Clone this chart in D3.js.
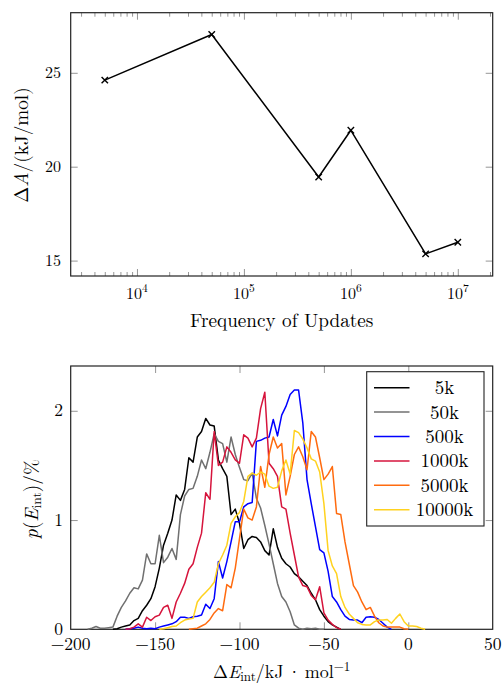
<!DOCTYPE html>
<html><head><meta charset="utf-8">
<script src="https://cdn.jsdelivr.net/npm/d3@7"></script>
<style>
body{margin:0;background:#fff;}
svg{display:block;}
</style></head><body>
<svg id="c" width="504" height="684"></svg>
<script>
// ---------- top chart data ----------
const freq = [5e3, 5e4, 5e5, 1e6, 5e6, 1e7];
const dA = [24.61, 27.04, 19.45, 21.94, 15.36, 15.98];
const topYTicks = [15, 20, 25];
const topXTicks = [1e4, 1e5, 1e6, 1e7];
const topXTickExp = ["4", "5", "6", "7"];
const topXMinor = [3e3,4e3,5e3,6e3,7e3,8e3,9e3, 2e4,3e4,4e4,5e4,6e4,7e4,8e4,9e4,
  2e5,3e5,4e5,5e5,6e5,7e5,8e5,9e5, 2e6,3e6,4e6,5e6,6e6,7e6,8e6,9e6, 2e7];

// ---------- bottom chart data ----------
const N = null;
const bins = [
 -190,-187.5,-185,-182.5, -180,-177.5,-175,-172.5, -170,-167.5,-165,-162.5,
 -160,-157.5,-155,-152.5, -150,-147.5,-145,-142.5, -140,-137.5,-135,-132.5,
 -130,-127.5,-125,-122.5, -120,-117.5,-115,-112.5, -110,-107.5,-105,-102.5,
 -100,-97.5,-95,-92.5, -90,-87.5,-85,-82.5, -80,-77.5,-75,-72.5,
 -70,-67.5,-65,-62.5, -60,-57.5,-55,-52.5, -50,-47.5,-45,-42.5,
 -40,-37.5,-35,-32.5, -30,-27.5,-25,-22.5, -20,-17.5,-15,-12.5,
 -10,-7.5,-5,-2.5, 0,2.5,5,7.5, 10];
const p5k = [
 N,N,N,N, N,N,0,0.005, 0.02,0.03,0.04,0.08,
 0.1,0.17,0.22,0.28, 0.39,0.56,0.77,0.88, 1.0,1.23,1.18,1.28,
 1.57,1.53,1.76,1.81, 1.93,1.87,1.86,1.55, 1.47,1.4,1.05,1.1,
 0.97,0.74,0.82,0.85, 0.84,0.8,0.72,0.68, 0.92,0.75,0.65,0.6,
 0.57,0.51,0.48,0.44, 0.4,0.33,0.27,0.18, 0.12,0.07,0.04,0.02,
 0,N,N,N, N,N,N,N, N,N,N,N,
 N,N,N,N, N,N,N,N, N];
const p50k = [
 0,0.01,0.025,0.01, 0.01,0.015,0.02,0.12, 0.2,0.26,0.33,0.38,
 0.37,0.45,0.69,0.6, 0.6,0.86,0.61,0.66, 0.74,0.64,1.05,1.22,
 1.28,1.29,1.4,1.55, 1.47,1.62,1.79,1.72, 1.7,1.53,1.76,1.6,
 1.48,1.37,1.36,1.43, 1.2,1.11,0.95,0.78, 0.6,0.42,0.3,0.25,
 0.16,0.04,0.01,0, 0.01,0.005,0.01,0, 0,N,N,N,
 N,N,N,N, N,N,N,N, N,N,N,N,
 N,N,N,N, N,N,N,N, N];
const p500k = [
 N,N,N,N, N,N,N,N, N,0,0.005,0.01,
 0.02,0.01,0.005,0.01, 0.005,0.02,0.03,0.04, 0.05,0.07,0.11,0.11,
 0.1,0.115,0.12,0.13, 0.23,0.19,0.28,0.62, 0.47,0.62,0.8,0.985,
 0.985,1.12,1.15,1.16, 1.72,1.73,1.75,1.76, 1.92,1.77,1.96,2.04,
 2.15,2.19,2.19,1.89, 1.37,1.15,0.94,0.73, 0.7,0.53,0.3,0.25,
 0.18,0.12,0.09,0.085, 0.085,0.06,0.11,0.115, 0.11,0.09,0.055,0.02,
 0,N,N,N, N,N,N,N, N];
const p1000k = [
 N,N,N,N, N,N,N,N, N,0,0.005,0.02,
 0.05,0.02,0.11,0.08, 0.115,0.13,0.2,0.22, 0.1,0.25,0.33,0.42,
 0.55,0.6,0.75,0.88, 1.25,1.19,1.81,1.5, 1.53,1.67,1.62,1.55,
 1.52,1.78,1.75,1.67, 1.75,2.02,2.17,1.52, 1.47,1.4,1.12,1.1,
 0.88,0.68,0.48,0.4, 0.39,0.31,0.27,0.39, 0.15,0.085,0.045,0.015,
 0,N,N,N, N,N,N,N, N,N,N,N,
 N,N,N,N, N,N,N,N, N];
const p5000k = [
 N,N,N,N, N,N,N,N, N,N,N,N,
 N,N,N,N, N,N,N,N, N,N,N,N,
 0,0.005,0.01,0.03, 0.05,0.09,0.15,0.19, 0.17,0.41,0.38,0.56,
 0.83,1.1,1.02,1.0, 1.12,1.49,1.3,1.6, 1.76,1.66,1.7,1.23,
 1.4,1.6,1.67,1.58, 1.46,1.81,1.76,1.57, 1.37,1.42,1.49,1.06,
 1.05,0.8,0.6,0.4, 0.34,0.25,0.18,0.2, 0.12,0.06,0.03,0.02,
 0.02,0.02,0.02,0.005, 0,N,N,N, N];
const p10000k = [
 N,N,N,N, N,N,N,N, N,N,N,N,
 N,N,N,N, N,0,0.005,0.015, 0.025,0.03,0.06,0.085,
 0.095,0.1,0.25,0.3, 0.34,0.38,0.43,0.6, 0.68,0.77,0.97,1.03,
 1.07,1.17,1.4,1.43, 1.41,1.44,1.42,1.31, 1.29,1.3,1.45,1.55,
 1.42,1.82,1.8,1.74, 1.66,1.56,1.54,1.44, 1.15,0.72,0.58,0.51,
 0.3,0.2,0.14,0.1, 0.06,0.045,0.04,0.04, 0.07,0.085,0.085,0.09,
 0.055,0.1,0.14,0.07, 0.03,0.03,0.025,0.01, 0];
const seriesNames = ["5k", "50k", "500k", "1000k", "5000k", "10000k"];
const seriesValues = [p5k, p50k, p500k, p1000k, p5000k, p10000k];
const seriesColors = ["#000000", "#707070", "#0000ff", "#d6143c", "#ff6b0f", "#ffd21f"];
const botXTicks = [-200, -150, -100, -50, 0, 50];
const botYTicks = [0, 1, 2];

const svg = d3.select('#c');
const FONT = '"Latin Modern Roman","Liberation Serif",serif';
const tickCol = '#8a8a8a';

// ================= TOP CHART =================
const T = {l: 70.7, r: 492.7, t: 12.7, b: 276};
const xT = d3.scaleLog().domain([2400, 2.12e7]).range([T.l, T.r]);
const yT = d3.scaleLinear().domain([14.18, 28.2]).range([T.b, T.t]);
const gT = svg.append('g').attr('font-family', FONT);

function ticksG(g, scale, vals, orient, pos, size) {
  const ax = (orient === 'bottom' ? d3.axisBottom(scale) : orient === 'top' ? d3.axisTop(scale) :
              orient === 'left' ? d3.axisLeft(scale) : d3.axisRight(scale))
    .tickValues(vals).tickSize(-size).tickFormat('');
  const tr = (orient === 'bottom' || orient === 'top') ? `translate(0,${pos})` : `translate(${pos},0)`;
  const a = g.append('g').attr('transform', tr).call(ax);
  a.select('.domain').remove();
  a.selectAll('.tick line').attr('stroke', tickCol).attr('stroke-width', 0.9);
}
ticksG(gT, xT, topXMinor, 'bottom', T.b, 4);
ticksG(gT, xT, topXMinor, 'top', T.t, 4);
ticksG(gT, xT, topXTicks, 'bottom', T.b, 7);
ticksG(gT, xT, topXTicks, 'top', T.t, 7);
ticksG(gT, yT, topYTicks, 'left', T.l, 7);
ticksG(gT, yT, topYTicks, 'right', T.r, 7);

gT.append('rect').attr('x', T.l).attr('y', T.t).attr('width', T.r - T.l).attr('height', T.b - T.t)
  .attr('fill', 'none').attr('stroke', '#222').attr('stroke-width', 1.2);

// x tick labels
const xl = gT.selectAll('text.xl').data(topXTicks).enter().append('text')
  .attr('class', 'xl').attr('x', d => xT(d)).attr('y', 298.5)
  .attr('text-anchor', 'middle').attr('font-size', 16).attr('font-family', FONT);
xl.append('tspan').text('10');
xl.append('tspan').attr('font-size', 11.5).attr('dy', -6.5).text((d, i) => topXTickExp[i]);
// y tick labels
gT.selectAll('text.yl').data(topYTicks).enter().append('text')
  .attr('x', 61).attr('y', d => yT(d) + 5.3).attr('text-anchor', 'end')
  .attr('font-size', 16).attr('font-family', FONT).text(d => d);

// line + markers
const lineT = d3.line().x((d, i) => xT(freq[i])).y(d => yT(d));
gT.append('path').datum(dA).attr('d', lineT).attr('fill', 'none')
  .attr('stroke', '#000').attr('stroke-width', 1.5).attr('stroke-linejoin', 'round');
const ms = 3.2;
gT.selectAll('path.mk').data(dA).enter().append('path')
  .attr('d', (d, i) => {
    const x = xT(freq[i]), y = yT(d);
    return `M${x-ms},${y-ms}L${x+ms},${y+ms}M${x-ms},${y+ms}L${x+ms},${y-ms}`;
  }).attr('stroke', '#000').attr('stroke-width', 1.4);

// axis labels
gT.append('text').attr('x', (T.l + T.r) / 2).attr('y', 326.5).attr('text-anchor', 'middle')
  .attr('font-size', 19.2).attr('font-family', FONT).text('Frequency of Updates');
const ylT = gT.append('text').attr('transform', 'translate(28,145) rotate(-90)')
  .attr('text-anchor', 'middle').attr('font-size', 19.2).attr('font-family', FONT);
ylT.append('tspan').text('Δ');
ylT.append('tspan').attr('font-style', 'italic').text('A');
ylT.append('tspan').text('/(kJ/mol)');

// ================= BOTTOM CHART =================
const B = {l: 70.7, r: 492.7, t: 366, b: 629.3};
const xB = d3.scaleLinear().domain([-200, 50]).range([B.l, B.r]);
const yB = d3.scaleLinear().domain([0, 2.41]).range([B.b, B.t]);
const gB = svg.append('g').attr('font-family', FONT);

const innerX = botXTicks.slice(1, -1);
ticksG(gB, xB, innerX, 'bottom', B.b, 7);
ticksG(gB, xB, innerX, 'top', B.t, 7);
ticksG(gB, yB, [1, 2], 'left', B.l, 7);
ticksG(gB, yB, [1, 2], 'right', B.r, 7);

gB.append('rect').attr('x', B.l).attr('y', B.t).attr('width', B.r - B.l).attr('height', B.b - B.t)
  .attr('fill', 'none').attr('stroke', '#222').attr('stroke-width', 1.2);

gB.selectAll('text.bxl').data(botXTicks).enter().append('text')
  .attr('x', d => xB(d)).attr('y', 649.5).attr('text-anchor', 'middle')
  .attr('font-size', 17.5).attr('font-family', FONT).text(d => d < 0 ? '\u2212' + Math.abs(d) : d);
gB.selectAll('text.byl').data(botYTicks).enter().append('text')
  .attr('x', 63).attr('y', d => yB(d) + 5.5).attr('text-anchor', 'end')
  .attr('font-size', 17.5).attr('font-family', FONT).text(d => d);

const lineB = d3.line().defined(d => d !== null).x((d, i) => xB(bins[i])).y(d => yB(d));
seriesValues.forEach((vals, k) => {
  gB.append('path').datum(vals).attr('d', lineB).attr('fill', 'none')
    .attr('stroke', seriesColors[k]).attr('stroke-width', 1.5).attr('stroke-linejoin', 'round');
});

// legend
const L = {x: 366.7, y: 371.7, w: 117.3, h: 154.3};
const lg = gB.append('g');
lg.append('rect').attr('x', L.x).attr('y', L.y).attr('width', L.w).attr('height', L.h)
  .attr('fill', '#fff').attr('stroke', '#222').attr('stroke-width', 1.1);
seriesNames.forEach((nm, k) => {
  const cy = 387.7 + k * 24.4;
  lg.append('line').attr('x1', 374).attr('x2', 409.5).attr('y1', cy).attr('y2', cy)
    .attr('stroke', seriesColors[k]).attr('stroke-width', 1.5);
  lg.append('text').attr('x', 444.5).attr('y', cy + 6.5).attr('text-anchor', 'middle')
    .attr('font-size', 19).attr('font-family', FONT).text(nm);
});

// axis labels
const xlB = gB.append('text').attr('x', (B.l + B.r) / 2).attr('y', 678).attr('text-anchor', 'middle')
  .attr('font-size', 18).attr('font-family', FONT);
xlB.append('tspan').text('Δ');
xlB.append('tspan').attr('font-style', 'italic').text('E');
xlB.append('tspan').attr('font-size', 13).attr('dy', 3).text('int');
xlB.append('tspan').attr('dy', -3).text('/kJ\u2009·\u2009mol');
xlB.append('tspan').attr('font-size', 13).attr('dy', -7.5).text('\u22121');

const ylB = gB.append('text').attr('transform', 'translate(38,499) rotate(-90)')
  .attr('text-anchor', 'middle').attr('font-size', 19.5).attr('font-family', FONT);
ylB.append('tspan').attr('font-style', 'italic').text('p');
ylB.append('tspan').text('(');
ylB.append('tspan').attr('font-style', 'italic').text('E');
ylB.append('tspan').attr('font-size', 13.5).attr('dy', 3).text('int');
ylB.append('tspan').attr('dy', -3).text(')/%');
</script>
</body></html>
